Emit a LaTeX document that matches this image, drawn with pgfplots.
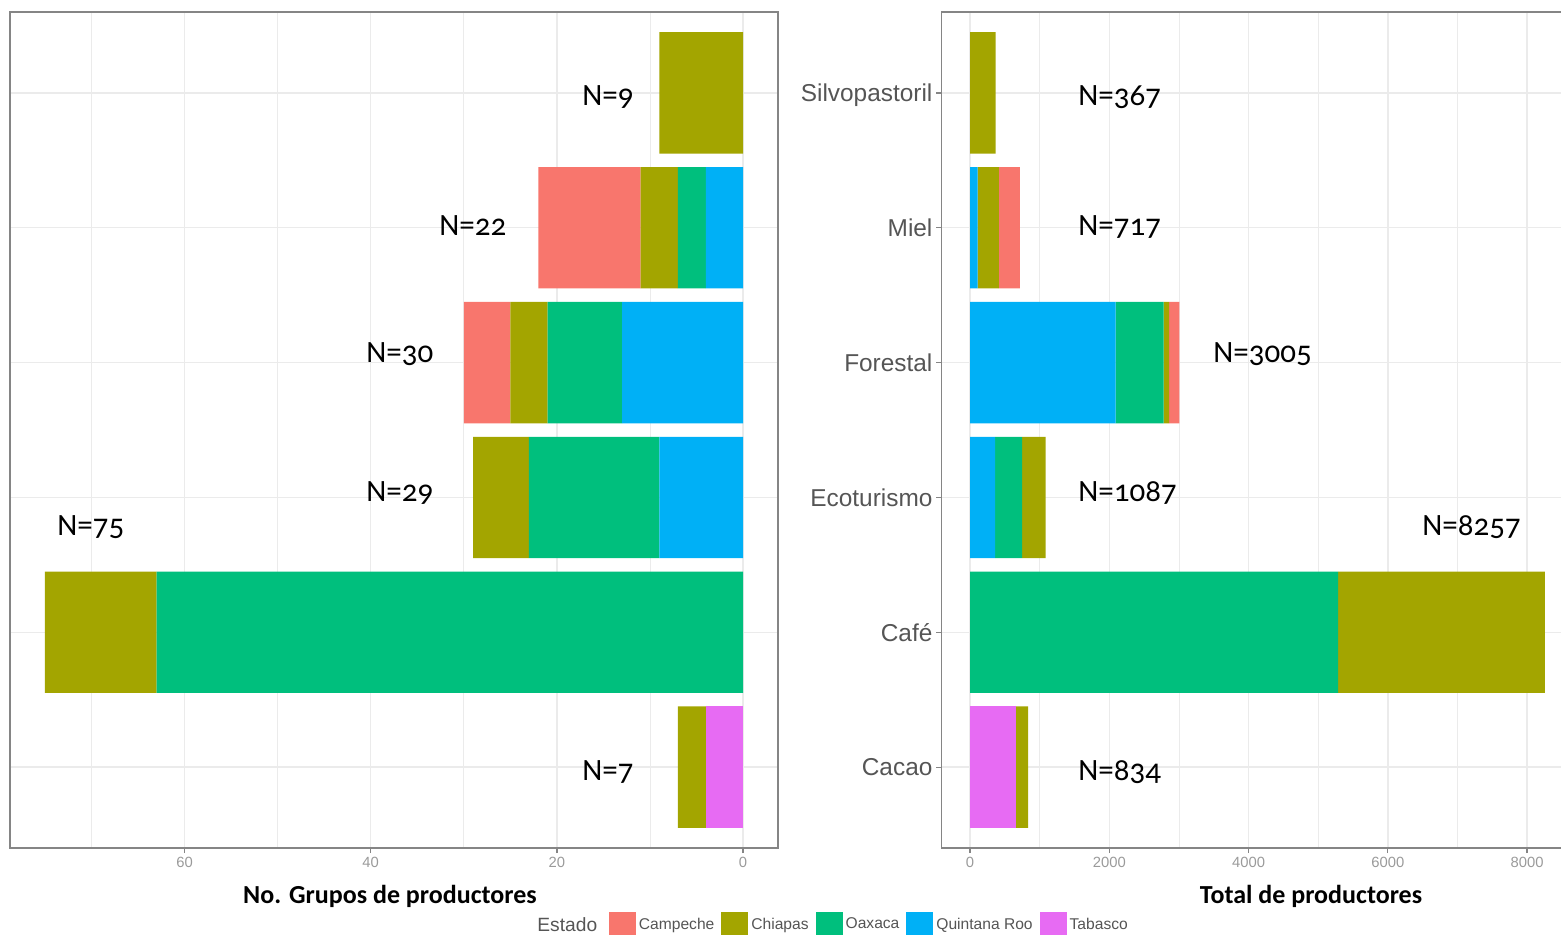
\documentclass[border=0pt]{standalone}
\usepackage{fontspec}
\setmainfont{Liberation Sans}
\newfontfamily\nfont[Numbers=OldStyle]{Carlito}
\newfontfamily\tfont{Carlito}
\usepackage{pgfplots}
\pgfplotsset{compat=1.18}

\definecolor{campeche}{HTML}{F8766D}
\definecolor{chiapas}{HTML}{A3A500}
\definecolor{oaxaca}{HTML}{00BF7D}
\definecolor{qroo}{HTML}{00B0F6}
\definecolor{tabasco}{HTML}{E76BF3}
\definecolor{gridc}{HTML}{EBEBEB}
\definecolor{frame}{HTML}{858585}
\definecolor{tickc}{HTML}{9A9A9A}
\definecolor{labc}{HTML}{555555}

\pgfplotsset{
  panel/.style={
    scale only axis, height=418pt, anchor=south west,
    xbar stacked, bar width=0.9,
    ymin=0.4, ymax=6.6, ytick={1,2,3,4,5,6},
    axis line style={color=frame, line width=0.7pt},
    grid=both,
    major grid style={color=gridc, line width=0.7pt},
    minor grid style={color=gridc, line width=0.35pt},
    tick align=outside, tick pos=left,
    major tick length=2.5pt, minor tick length=0pt,
    tick style={color=frame, line width=0.6pt},
    xticklabel style={font=\fontsize{7.4}{8}\selectfont, text=tickc, inner sep=0pt, yshift=-2pt},
    /pgf/number format/assume math mode=true,
    /pgf/number format/1000 sep={},
    clip=false,
  },
}
\tikzset{nlab/.style={anchor=base west, inner sep=0pt, font=\nfont\fontsize{15.5}{17}\selectfont}}

\begin{document}
\begin{tikzpicture}
% left panel: number of producer groups
\begin{axis}[panel,
  at={(5pt,43pt)}, width=384pt,
  x dir=reverse, xmin=-3.75, xmax=78.75,
  xtick={0,20,40,60}, minor xtick={10,30,50,70},
  yticklabels={}, y tick style={draw=none},
  reverse legend, legend columns=-1,
  legend image code/.code={\fill[#1] (0pt,-6.5pt) rectangle (13.5pt,6.5pt);},
  legend style={at={(0.7799,-0.0921)}, anchor=west, draw=none, fill=none,
    inner sep=0pt, outer sep=0pt, font=\fontsize{7.8}{9}\selectfont, text=labc,
    cells={anchor=west}, nodes={inner sep=0pt},
    /tikz/every odd column/.append style={column sep=1.5pt},
    /tikz/every even column/.append style={column sep=3.5pt}},
]
% y: 1 Cacao, 2 Cafe, 3 Ecoturismo, 4 Forestal, 5 Miel, 6 Silvopastoril
\addplot[fill=tabasco, draw=none] coordinates {(4,1) (0,2) (0,3) (0,4) (0,5) (0,6)};
\addplot[fill=qroo, draw=none] coordinates {(0,1) (0,2) (9,3) (13,4) (4,5) (0,6)};
\addplot[fill=oaxaca, draw=none] coordinates {(0,1) (63,2) (14,3) (8,4) (3,5) (0,6)};
\addplot[fill=chiapas, draw=none] coordinates {(3,1) (12,2) (6,3) (4,4) (4,5) (9,6)};
\addplot[fill=campeche, draw=none] coordinates {(0,1) (0,2) (0,3) (5,4) (11,5) (0,6)};
\legend{Tabasco, Quintana Roo, Oaxaca, Chiapas, Campeche}
\node[nlab] at (axis cs:17.3,5.91) {N=9};
\node[nlab] at (axis cs:32.67,4.946) {N=22};
\node[nlab] at (axis cs:40.51,4.004) {N=30};
\node[nlab] at (axis cs:40.51,2.973) {N=29};
\node[nlab] at (axis cs:73.7,2.714) {N=75};
\node[nlab] at (axis cs:17.3,0.904) {N=7};
\end{axis}

% right panel: total producers
\begin{axis}[panel,
  at={(470.65pt,43pt)}, width=316.2pt,
  xmin=-412.85, xmax=8669.85,
  xtick={0,2000,4000,6000,8000}, minor xtick={1000,3000,5000,7000},
  yticklabels={Cacao,Café,Ecoturismo,Forestal,Miel,Silvopastoril},
  yticklabel style={font=\fontsize{12.2}{14}\selectfont, text=labc, inner sep=0pt,
    anchor=base east, xshift=-1.75pt, yshift=-4.4pt},
]
\addplot[fill=tabasco, draw=none] coordinates {(655,1) (0,2) (0,3) (0,4) (0,5) (0,6)};
\addplot[fill=qroo, draw=none] coordinates {(0,1) (0,2) (360,3) (2090,4) (110,5) (0,6)};
\addplot[fill=oaxaca, draw=none] coordinates {(0,1) (5285,2) (387,3) (690,4) (0,5) (0,6)};
\addplot[fill=chiapas, draw=none] coordinates {(179,1) (2972,2) (340,3) (80,4) (305,5) (367,6)};
\addplot[fill=campeche, draw=none] coordinates {(0,1) (0,2) (0,3) (145,4) (302,5) (0,6)};
\node[nlab] at (axis cs:1551,5.91) {N=367};
\node[nlab] at (axis cs:1551,4.946) {N=717};
\node[nlab] at (axis cs:3490,4.004) {N=3005};
\node[nlab] at (axis cs:1551,2.973) {N=1087};
\node[nlab] at (axis cs:6491,2.714) {N=8257};
\node[nlab] at (axis cs:1551,0.904) {N=834};
\end{axis}

\node[anchor=base, inner sep=0pt, font=\tfont\bfseries\fontsize{13}{15}\selectfont] at (195pt,15.5pt) {No. Grupos de productores};
\node[anchor=base, inner sep=0pt, font=\tfont\bfseries\fontsize{13}{15}\selectfont] at (655.5pt,15.5pt) {Total de productores};
\node[anchor=west, inner sep=0pt, font=\fontsize{9.6}{11}\selectfont, text=labc] at (268.5pt,4.5pt) {Estado};

\pgfresetboundingbox
\path[use as bounding box] (0pt,0pt) rectangle (780.5pt,467pt);
\end{tikzpicture}
\end{document}
